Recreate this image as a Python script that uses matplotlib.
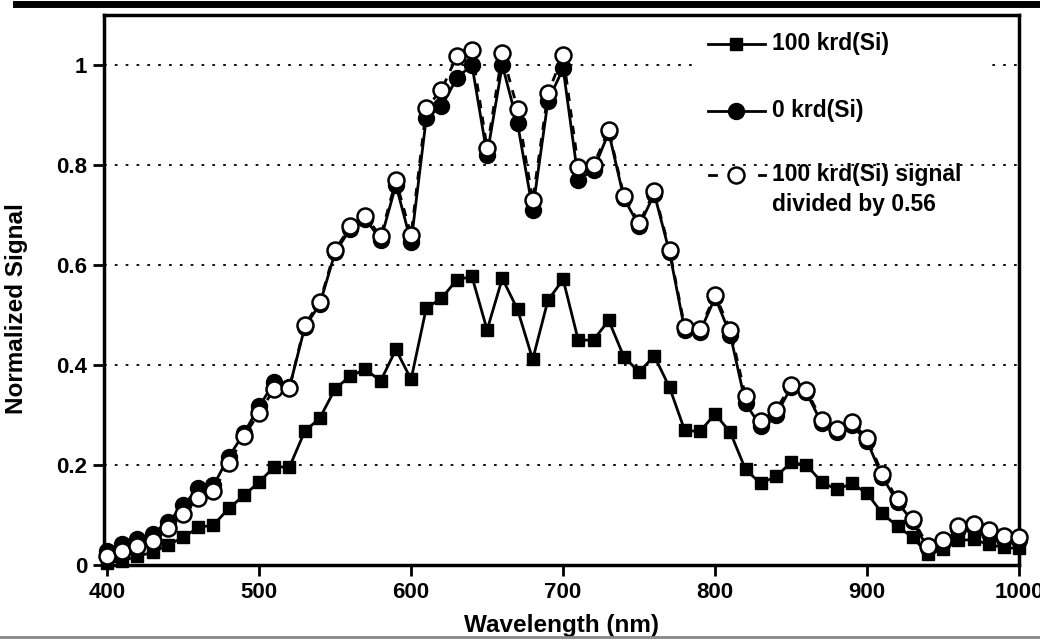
import matplotlib
matplotlib.use('Agg')
import matplotlib.pyplot as plt
from matplotlib.patches import Rectangle
from matplotlib.lines import Line2D

plt.rcParams['font.family'] = ['Liberation Sans', 'DejaVu Sans']
plt.rcParams['font.weight'] = 'bold'

# wavelength grid (nm)
wavelength = list(range(400, 1001, 10))

# 100 krd(Si) signal
irradiated = [0.005, 0.008, 0.018, 0.025, 0.040, 0.055, 0.075, 0.080, 0.113, 0.139,
              0.166, 0.196, 0.196, 0.267, 0.294, 0.352, 0.378, 0.391, 0.368, 0.431,
              0.371, 0.514, 0.533, 0.570, 0.577, 0.470, 0.573, 0.511, 0.411, 0.529,
              0.571, 0.449, 0.450, 0.489, 0.416, 0.386, 0.418, 0.355, 0.269, 0.267,
              0.302, 0.265, 0.191, 0.163, 0.177, 0.205, 0.200, 0.166, 0.151, 0.163,
              0.143, 0.103, 0.077, 0.055, 0.022, 0.031, 0.049, 0.051, 0.041, 0.035,
              0.033]

# 0 krd(Si) signal
pre_rad = [0.028, 0.042, 0.052, 0.062, 0.085, 0.119, 0.153, 0.159, 0.216, 0.263,
           0.317, 0.365, 0.355, 0.475, 0.522, 0.625, 0.672, 0.692, 0.650, 0.760,
           0.645, 0.894, 0.917, 0.973, 1.000, 0.820, 1.000, 0.883, 0.710, 0.927,
           0.993, 0.770, 0.790, 0.865, 0.733, 0.678, 0.742, 0.625, 0.470, 0.466,
           0.535, 0.460, 0.323, 0.277, 0.300, 0.355, 0.345, 0.284, 0.265, 0.279,
           0.247, 0.176, 0.125, 0.087, 0.033, 0.045, 0.071, 0.076, 0.063, 0.052,
           0.050]

# 100 krd(Si) signal divided by 0.56
scaled = [0.018, 0.027, 0.037, 0.048, 0.074, 0.102, 0.134, 0.147, 0.203, 0.257,
          0.304, 0.352, 0.354, 0.480, 0.526, 0.630, 0.677, 0.697, 0.657, 0.769,
          0.660, 0.914, 0.950, 1.017, 1.030, 0.833, 1.023, 0.912, 0.729, 0.943,
          1.020, 0.795, 0.800, 0.870, 0.738, 0.683, 0.747, 0.630, 0.476, 0.472,
          0.540, 0.470, 0.337, 0.287, 0.310, 0.360, 0.350, 0.290, 0.271, 0.285,
          0.253, 0.182, 0.131, 0.092, 0.038, 0.050, 0.077, 0.082, 0.069, 0.058,
          0.055]

labels = ['100 krd(Si)', '0 krd(Si)', '100 krd(Si) signal']

fig = plt.figure(figsize=(10.4, 6.39), dpi=100)
ax = fig.add_axes([0.1, 0.1158, 0.88, 0.861])

# page rules from the scanned figure
fig.add_artist(Line2D([0.015, 1.0], [0.993, 0.993], color='black', lw=5,
                      transform=fig.transFigure))
fig.add_artist(Line2D([0.0, 1.0], [0.003, 0.003], color='#888888', lw=2,
                      transform=fig.transFigure))

ax.plot(wavelength, pre_rad, '-', color='black', lw=2, marker='o', ms=11.5,
        mfc='black', mec='black', clip_on=False, zorder=3)
ax.plot(wavelength, irradiated, '-', color='black', lw=2, marker='s', ms=9,
        mfc='black', mec='black', clip_on=False, zorder=3)
ax.plot(wavelength, scaled, color='black', lw=2, ls=(0, (3, 3)), marker='o', ms=11.5,
        mfc='white', mec='black', mew=1.8, clip_on=False, zorder=4)

ax.set_xlim(398, 1000)
ax.set_ylim(0, 1.1)
ax.set_xticks(range(400, 1001, 100))
ax.set_yticks([0, 0.2, 0.4, 0.6, 0.8, 1.0])
ax.set_yticklabels(['0', '0.2', '0.4', '0.6', '0.8', '1'])

for y in [0.2, 0.4, 0.6, 0.8, 1.0]:
    ax.axhline(y, color='black', lw=1.3, ls=(0, (1.5, 4.5)), zorder=1)

for s in ax.spines.values():
    s.set_linewidth(2.5)
ax.tick_params(direction='out', length=8, width=2, labelsize=16, pad=4)
ax.set_xlabel('Wavelength (nm)', fontsize=17.5, fontweight='bold', labelpad=8)
ax.set_ylabel('Normalized Signal', fontsize=17.5, fontweight='bold')
ax.yaxis.set_label_coords(-0.083, 0.467)

# legend drawn by hand so the handle sits on the first text line
ax.add_patch(Rectangle((0.647, 0.8), 0.322, 0.21, transform=ax.transAxes,
                       facecolor='white', edgecolor='none', zorder=2))
leg_y = [0.947, 0.826, 0.709]
hx = [0.66, 0.722]
ax.plot(hx, [leg_y[0]] * 2, '-', color='black', lw=2, transform=ax.transAxes, zorder=5)
ax.plot([0.691], [leg_y[0]], 's', color='black', ms=8.5, transform=ax.transAxes, zorder=5)
ax.plot(hx, [leg_y[1]] * 2, '-', color='black', lw=2, transform=ax.transAxes, zorder=5)
ax.plot([0.691], [leg_y[1]], 'o', color='black', ms=11.5, transform=ax.transAxes, zorder=5)
ax.plot([0.661, 0.669], [leg_y[2]] * 2, '-', color='black', lw=2,
        transform=ax.transAxes, zorder=5)
ax.plot([0.716, 0.722], [leg_y[2]] * 2, '-', color='black', lw=2,
        transform=ax.transAxes, zorder=5)
ax.plot([0.691], [leg_y[2]], 'o', mfc='white', mec='black', mew=1.8, ms=11.5,
        transform=ax.transAxes, zorder=6)
for y, lab in zip(leg_y, labels):
    ax.text(0.73, y, lab, transform=ax.transAxes, fontsize=16.5, fontweight='bold',
            va='center', ha='left', zorder=6)
ax.text(0.73, leg_y[2] - 0.054, 'divided by 0.56', transform=ax.transAxes,
        fontsize=16.5, fontweight='bold', va='center', ha='left', zorder=6)

fig.savefig('out.png', dpi=100)
